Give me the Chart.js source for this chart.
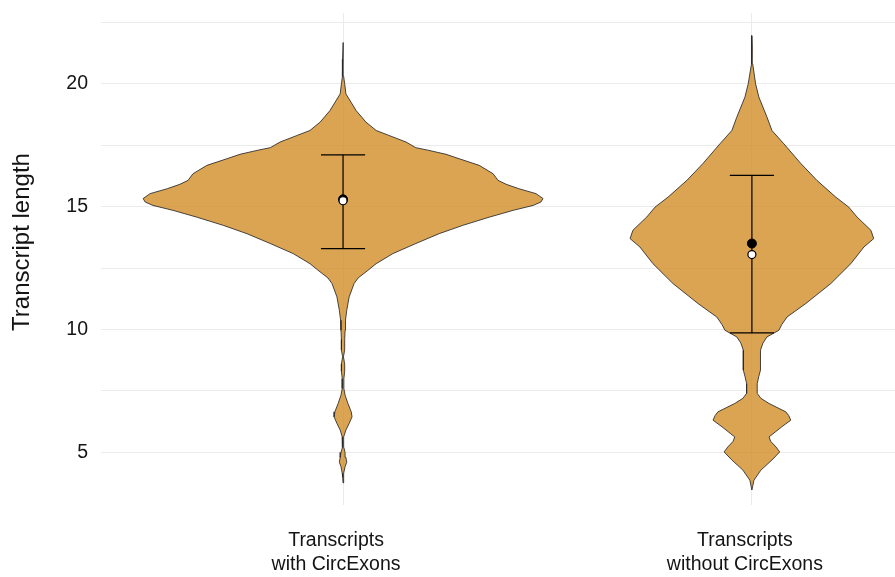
<!DOCTYPE html>
<html>
<head>
<meta charset="utf-8">
<script src="https://cdn.jsdelivr.net/npm/chart.js@4.4.0/dist/chart.umd.min.js"></script>
<style>
  html, body { margin: 0; padding: 0; background: #ffffff; }
  #wrap { width: 895px; height: 577px; }
</style>
</head>
<body>
<div id="wrap"><canvas id="c" width="895" height="577"></canvas></div>
<script>
// Categories on the x axis (multi-line labels)
const categories = [['Transcripts', 'with CircExons'], ['Transcripts', 'without CircExons']];

// y ticks: gridlines every 2.5, labels on multiples of 5
const yTicks = [5, 7.5, 10, 12.5, 15, 17.5, 20, 22.5];

// Violin outlines: transcript length and density half-width (in category units)
const withLengths = [3.76, 4.0, 4.15, 4.42, 4.6, 4.8, 5.0, 5.2, 5.37, 5.63, 5.91, 6.18, 6.45, 6.65, 6.99, 7.33, 7.6, 8.0, 8.3, 8.6, 8.89, 9.16, 9.6, 9.97, 10.38, 10.78, 11.33, 11.87, 12.1, 12.41, 12.68, 13.09, 13.5, 13.9, 14.24, 14.57, 14.85, 15.05, 15.19, 15.33, 15.53, 15.73, 15.91, 16.07, 16.34, 16.68, 16.95, 17.13, 17.29, 17.4, 17.63, 17.9, 18.1, 18.44, 18.91, 19.59, 20.0, 20.3, 21.0, 21.68];
const withDensity = [0, 0.001, 0.002, 0.005, 0.009, 0.007, 0.005, 0.002, 0.001, 0.002, 0.007, 0.015, 0.022, 0.020, 0.012, 0.005, 0.002, 0.002, 0.004, 0.004, 0.001, 0.004, 0.004, 0.005, 0.006, 0.009, 0.015, 0.027, 0.037, 0.061, 0.081, 0.122, 0.178, 0.235, 0.293, 0.357, 0.416, 0.465, 0.484, 0.489, 0.472, 0.430, 0.399, 0.379, 0.367, 0.333, 0.284, 0.252, 0.210, 0.178, 0.154, 0.112, 0.081, 0.056, 0.032, 0.007, 0.004, 0.0015, 0.001, 0];

const withoutLengths = [3.47, 3.87, 4.28, 4.69, 5.02, 5.22, 5.45, 5.63, 6.04, 6.31, 6.5, 6.65, 6.99, 7.2, 7.4, 7.8, 8.1, 8.35, 9.16, 9.45, 9.7, 9.97, 10.2, 10.51, 11.06, 11.87, 12.68, 13.36, 13.7, 14.04, 14.58, 14.98, 15.39, 16.07, 16.75, 17.56, 18.1, 18.64, 19.46, 20.0, 20.81, 21.5, 21.96];
const withoutDensity = [0, 0.005, 0.022, 0.049, 0.068, 0.059, 0.046, 0.042, 0.073, 0.095, 0.090, 0.083, 0.042, 0.022, 0.013, 0.013, 0.017, 0.021, 0.021, 0.027, 0.037, 0.066, 0.073, 0.086, 0.132, 0.193, 0.242, 0.274, 0.298, 0.291, 0.257, 0.237, 0.205, 0.159, 0.120, 0.078, 0.049, 0.037, 0.017, 0.009, 0.002, 0.001, 0];

// Summary statistics per category
const meanValues = [15.30, 13.50];
const medianValues = [15.24, 13.05];
const lowerValues = [13.29, 9.86];
const upperValues = [17.11, 16.27];

const CAP = 0.054;           // half-width of the error-bar caps, category units
const FONT = '"Liberation Sans", Arial, sans-serif';
const INK = '#141414';

Chart.defaults.font.family = FONT;
Chart.defaults.color = INK;

// Closed outline: right side bottom-to-top, then left side top-to-bottom
function violin(center, ys, ws) {
  const right = ys.map((y, i) => ({ x: center + ws[i], y }));
  const left = ys.map((y, i) => ({ x: center - ws[i], y })).reverse();
  return right.concat(left);
}

function errorBars() {
  const pts = [];
  categories.forEach((_, i) => {
    const c = i + 1, lo = lowerValues[i], hi = upperValues[i];
    pts.push({ x: c - CAP, y: hi }, { x: c + CAP, y: hi }, { x: c, y: null },
             { x: c, y: hi }, { x: c, y: lo }, { x: c, y: null },
             { x: c - CAP, y: lo }, { x: c + CAP, y: lo }, { x: c, y: null });
  });
  return pts;
}

const violinStyle = {
  fill: 'shape',
  backgroundColor: 'rgba(210,141,39,0.8)',
  borderColor: 'rgba(40,40,40,0.85)',
  borderWidth: 1,
  pointRadius: 0,
  tension: 0,
  order: 4
};

const yTitle = {
  id: 'yTitle',
  afterDraw(chart) {
    const ctx = chart.ctx;
    ctx.save();
    ctx.translate(22, 242);
    ctx.rotate(-Math.PI / 2);
    ctx.textAlign = 'center';
    ctx.textBaseline = 'middle';
    ctx.fillStyle = INK;
    ctx.font = '24px ' + FONT;
    ctx.fillText('Transcript length', 0, 0);
    ctx.restore();
  }
};

new Chart(document.getElementById('c'), {
  type: 'line',
  data: {
    datasets: [
      Object.assign({ data: violin(1, withLengths, withDensity) }, violinStyle),
      Object.assign({ data: violin(2, withoutLengths, withoutDensity) }, violinStyle),
      {
        data: errorBars(),
        borderColor: '#000000',
        borderWidth: 1.2,
        pointRadius: 0,
        spanGaps: false,
        fill: false,
        order: 3
      },
      {
        data: meanValues.map((v, i) => ({ x: i + 1, y: v })),
        showLine: false,
        pointRadius: 4.5,
        pointBackgroundColor: '#000000',
        pointBorderColor: '#000000',
        pointBorderWidth: 1,
        order: 2
      },
      {
        data: medianValues.map((v, i) => ({ x: i + 1, y: v })),
        showLine: false,
        pointRadius: 4,
        pointBackgroundColor: '#ffffff',
        pointBorderColor: '#000000',
        pointBorderWidth: 1.2,
        order: 1
      }
    ]
  },
  options: {
    responsive: false,
    animation: false,
    devicePixelRatio: 1,
    layout: { autoPadding: false, padding: { top: 13, right: 0, bottom: 0, left: 0 } },
    plugins: { legend: { display: false }, tooltip: { enabled: false } },
    scales: {
      x: {
        type: 'linear',
        min: 0.408,
        max: 2.35,
        afterBuildTicks(scale) { scale.ticks = categories.map((_, i) => ({ value: i + 1 })); },
        afterFit(scale) {
          scale.height = 72;
          scale.paddingLeft = 0;
          scale.paddingRight = 0;
        },
        grid: { color: '#EBEBEB', lineWidth: 1, drawTicks: false },
        border: { display: false },
        ticks: {
          padding: 24,
          labelOffset: -7,
          maxRotation: 0,
          autoSkip: false,
          font: { size: 19.5, lineHeight: 1.22 },
          color: INK,
          callback: (v) => categories[Math.round(v) - 1]
        }
      },
      y: {
        type: 'linear',
        min: 2.86,
        max: 22.88,
        afterBuildTicks(scale) { scale.ticks = yTicks.map(v => ({ value: v })); },
        afterFit(scale) {
          scale.width = 101;
          scale.paddingTop = 0;
          scale.paddingBottom = 0;
        },
        grid: { color: '#EBEBEB', lineWidth: 1, drawTicks: false },
        border: { display: false },
        ticks: {
          padding: 13,
          font: { size: 19.5 },
          color: INK,
          callback: (v) => (v % 5 === 0 ? String(v) : '')
        }
      }
    }
  },
  plugins: [yTitle]
});
</script>
</body>
</html>
